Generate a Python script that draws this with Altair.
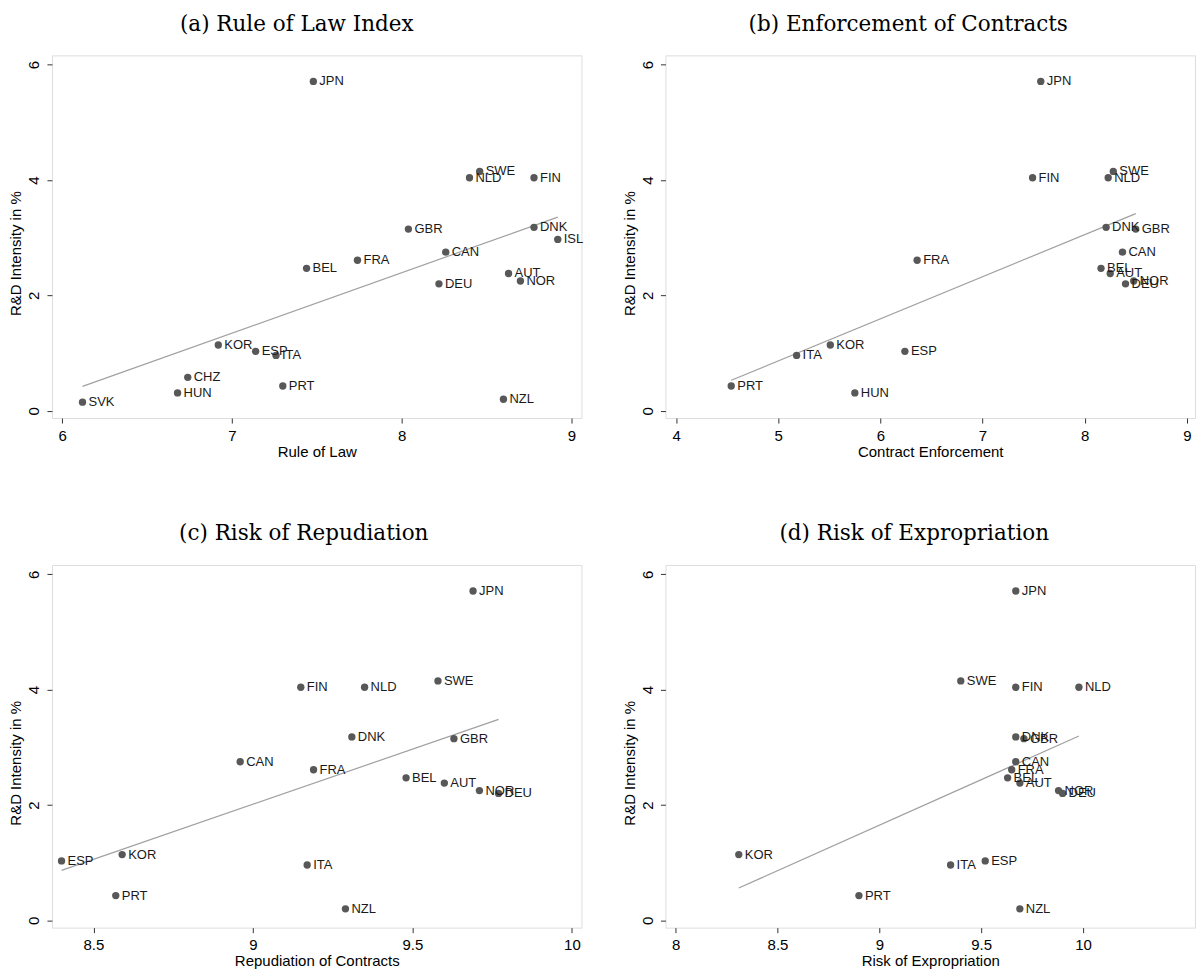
import altair as alt
import pandas as pd

countries = ["JPN", "SWE", "NLD", "FIN", "GBR", "DNK", "ISL", "CAN", "FRA", "BEL", "AUT",
             "NOR", "DEU", "KOR", "ESP", "ITA", "CHZ", "HUN", "PRT", "NZL", "SVK"]
rd_intensity = [5.71, 4.15, 4.04, 4.04, 3.15, 3.18, 2.97, 2.75, 2.61, 2.47, 2.38,
                2.25, 2.20, 1.14, 1.03, 0.96, 0.58, 0.31, 0.43, 0.20, 0.15]
rule_of_law = [7.48, 8.46, 8.40, 8.78, 8.04, 8.78, 8.92, 8.26, 7.74, 7.44, 8.63,
               8.70, 8.22, 6.92, 7.14, 7.26, 6.74, 6.68, 7.30, 8.60, 6.12]
contract_enforcement = [7.57, 8.28, 8.23, 7.49, 8.50, 8.21, None, 8.37, 6.36, 8.16, 8.25,
                        8.48, 8.40, 5.51, 6.24, 5.18, None, 5.75, 4.54, None, None]
repudiation = [9.69, 9.58, 9.35, 9.15, 9.63, 9.31, None, 8.96, 9.19, 9.48, 9.60,
               9.71, 9.77, 8.59, 8.40, 9.17, None, None, 8.57, 9.29, None]
expropriation = [9.67, 9.40, 9.98, 9.67, 9.71, 9.67, None, 9.67, 9.65, 9.63, 9.69,
                 9.88, 9.90, 8.31, 9.52, 9.35, None, None, 8.90, 9.69, None]

panel_titles = ["(a) Rule of Law Index", "(b) Enforcement of Contracts",
                "(c) Risk of Repudiation", "(d) Risk of Expropriation"]
x_titles = ["Rule of Law", "Contract Enforcement", "Repudiation of Contracts", "Risk of Expropriation"]
x_ticks = [[6, 7, 8, 9], [4, 5, 6, 7, 8, 9], [8.5, 9, 9.5, 10], [8, 8.5, 9, 9.5, 10]]
x_domains = [[5.94, 9.06], [3.896, 9.08], [8.37, 10.03], [7.95, 10.55]]
y_ticks = [0, 2, 4, 6]
y_title = "R&D Intensity in %"
title_dx = [-20, -22, -13, -16]

SANS = "Liberation Sans"
FRAME = "#333333"


def panel(xvals, ptitle, xtitle, ticks, dom, dx):
    df = pd.DataFrame({"country": countries, "x": xvals, "rd": rd_intensity}).dropna()
    base = alt.Chart(df)
    xenc = alt.X("x:Q",
                 scale=alt.Scale(domain=dom, nice=False, zero=False),
                 axis=alt.Axis(values=ticks, title=xtitle, format="~g", grid=False,
                               domain=False, tickColor=FRAME, tickSize=5,
                               labelPadding=5, labelFont=SANS, labelFontSize=15,
                               labelColor="#000000", titleFont=SANS, titleFontSize=15,
                               titleFontWeight="normal", titleColor="#000000",
                               titlePadding=1, labelFlush=False))
    yenc = alt.Y("rd:Q",
                 scale=alt.Scale(domain=[-0.126, 6.161], nice=False, zero=False),
                 axis=alt.Axis(values=y_ticks, title=y_title, grid=False, domain=False,
                               tickColor=FRAME, tickSize=5, labelAngle=270,
                               labelAlign="center", labelBaseline="bottom",
                               labelPadding=5, labelFont=SANS, labelFontSize=15,
                               labelColor="#000000", titleFont=SANS, titleFontSize=15,
                               titleFontWeight="normal", titleColor="#000000",
                               titlePadding=3, titleY=198, labelFlush=False))
    line = base.transform_regression("x", "rd").mark_line(
        color="#a0a0a0", strokeWidth=1.2).encode(x=xenc, y=yenc)
    pts = base.mark_circle(size=54, color="#585858", opacity=1).encode(x=xenc, y=yenc)
    txt = base.mark_text(align="left", baseline="middle", dx=6, font=SANS, fontSize=13,
                         color="#1a1a1a").encode(x=xenc, y=yenc, text="country:N")
    return alt.layer(line, pts, txt).properties(
        width=530, height=363,
        title=alt.TitleParams(ptitle, font="DejaVu Serif", fontSize=21.5,
                              fontWeight="normal", color="#000000", anchor="middle",
                              offset=20, dx=dx))


xs = [rule_of_law, contract_enforcement, repudiation, expropriation]
panels = [panel(xs[i], panel_titles[i], x_titles[i], x_ticks[i], x_domains[i], title_dx[i])
          for i in range(4)]

chart = alt.concat(*panels, columns=2, spacing={"row": 147, "column": 84},
                   bounds="flush").properties(
    padding={"left": 0, "top": 5, "right": 0, "bottom": 0}
).configure_view(stroke=FRAME, strokeWidth=1).configure(background="white")

chart.save("out.html", embed_options={"renderer": "svg", "actions": False})
